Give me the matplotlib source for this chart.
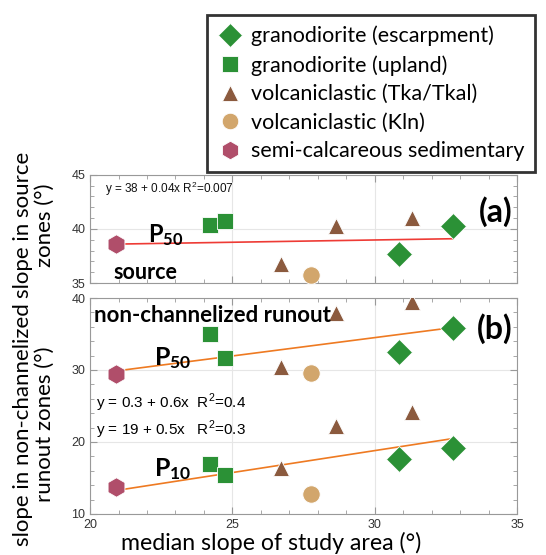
import matplotlib
matplotlib.use("Agg")
import matplotlib.pyplot as plt
from matplotlib.lines import Line2D
from matplotlib.ticker import MultipleLocator
import numpy as np

plt.rcParams['font.family'] = ['Liberation Sans', 'DejaVu Sans']
plt.rcParams['mathtext.fontset'] = 'custom'
plt.rcParams['mathtext.rm'] = 'Liberation Sans'
plt.rcParams['mathtext.bf'] = 'Lato:bold'
CAL = ['Lato', 'DejaVu Sans']   # Calibri-like labels

GREEN = "#2b9136"
BROWN = "#8b5a3e"
TAN = "#d2a66c"
ROSE = "#b04e6a"
RED_LINE = "#ee3b35"
ORANGE_LINE = "#ee7a22"

# lithology groups: (label, marker, colour)
groups = [
    ("granodiorite (escarpment)", "D", GREEN),
    ("granodiorite (upland)", "s", GREEN),
    ("volcaniclastic (Tka/Tkal)", "^", BROWN),
    ("volcaniclastic (Kln)", "o", TAN),
    ("semi-calcareous sedimentary", "h", ROSE),
]

# median slope of study area per group
median_x = {
    "D": [30.85, 32.75],
    "s": [24.2, 24.75],
    "^": [26.7, 28.65, 31.3],
    "o": [27.75],
    "h": [20.9],
}
# (a) P50 slope in source zones
src_p50 = {
    "D": [37.7, 40.3],
    "s": [40.4, 40.7],
    "^": [36.8, 40.3, 41.0],
    "o": [35.7],
    "h": [38.6],
}
# (b) P50 slope in non-channelized runout zones
run_p50 = {
    "D": [32.5, 35.8],
    "s": [35.0, 31.7],
    "^": [30.4, 37.9, 39.5],
    "o": [29.6],
    "h": [29.4],
}
# (b) P10 slope in non-channelized runout zones
run_p10 = {
    "D": [17.7, 19.2],
    "s": [17.0, 15.4],
    "^": [16.4, 22.2, 24.1],
    "o": [12.7],
    "h": [13.7],
}
# regression lines (intercept, slope) as drawn
fit_src_p50 = (37.72, 0.042)
fit_run_p50 = (19.2, 0.51)
fit_run_p10 = (0.5, 0.61)
fit_x = [20.9, 32.75]

marker_size = {"D": 13, "s": 12, "^": 12, "o": 12.5, "h": 14}


def style_axes(ax):
    for sp in ax.spines.values():
        sp.set_color("#999999")
        sp.set_linewidth(0.8)
    ax.set_xlim(20, 35)
    ax.xaxis.set_major_locator(MultipleLocator(5))
    ax.xaxis.set_minor_locator(MultipleLocator(1))
    ax.tick_params(which="both", direction="in", top=True, right=True,
                   colors="#999999", labelcolor="#333333", labelsize=9)
    ax.tick_params(which="major", length=5)
    ax.tick_params(which="minor", length=3)
    ax.grid(True, which="major", color="#e6e6e6", lw=0.8)
    ax.set_axisbelow(True)


def scatter(ax, yd):
    for label, m, c in groups:
        ax.plot(median_x[m], yd[m], ls="none", marker=m, color=c,
                markersize=marker_size[m], markeredgecolor="white",
                markeredgewidth=0.6, zorder=3)


def fit_line(ax, coef, color):
    xx = np.array(fit_x)
    ax.plot(xx, coef[0] + coef[1] * xx, color=color, lw=1.2, zorder=2)


fig = plt.figure(figsize=(5.46, 5.55), dpi=100)
ax_a = fig.add_axes([0.165, 0.490, 0.782, 0.195])
ax_b = fig.add_axes([0.165, 0.074, 0.782, 0.389])

style_axes(ax_a)
ax_a.set_ylim(35, 45)
ax_a.yaxis.set_major_locator(MultipleLocator(5))
ax_a.yaxis.set_minor_locator(MultipleLocator(1))
ax_a.set_xticklabels([])
fit_line(ax_a, fit_src_p50, RED_LINE)
scatter(ax_a, src_p50)

style_axes(ax_b)
ax_b.set_ylim(10, 40)
ax_b.yaxis.set_major_locator(MultipleLocator(10))
ax_b.yaxis.set_minor_locator(MultipleLocator(2))
fit_line(ax_b, fit_run_p50, ORANGE_LINE)
fit_line(ax_b, fit_run_p10, ORANGE_LINE)
scatter(ax_b, run_p50)
scatter(ax_b, run_p10)

# panel (a) annotations
ax_a.text(0.035, 0.83, "y = 38 + 0.04x R$^2$=0.007", transform=ax_a.transAxes,
          fontsize=8.5, color="#111111")
ax_a.text(0.135, 0.44, r"$\mathbf{P_{50}}$", transform=ax_a.transAxes,
          fontsize=17, va="center")
ax_a.text(0.055, 0.10, "source", transform=ax_a.transAxes, fontsize=15.5,
          fontweight="bold", family=CAL, va="center")
ax_a.text(0.99, 0.66, "(a)", transform=ax_a.transAxes, fontsize=23,
          fontweight="bold", family=CAL, ha="right", va="center")

# panel (b) annotations
ax_b.text(0.008, 0.92, "non-channelized runout", transform=ax_b.transAxes,
          fontsize=16, fontweight="bold", family=CAL, va="center")
ax_b.text(0.15, 0.72, r"$\mathbf{P_{50}}$", transform=ax_b.transAxes,
          fontsize=18, va="center")
ax_b.text(0.015, 0.515, "y = 0.3 + 0.6x  R$^2$=0.4", transform=ax_b.transAxes,
          fontsize=11, va="center")
ax_b.text(0.015, 0.39, "y = 19 + 0.5x   R$^2$=0.3", transform=ax_b.transAxes,
          fontsize=11, va="center")
ax_b.text(0.15, 0.21, r"$\mathbf{P_{10}}$", transform=ax_b.transAxes,
          fontsize=18, va="center")
ax_b.text(0.99, 0.86, "(b)", transform=ax_b.transAxes, fontsize=23,
          fontweight="bold", family=CAL, ha="right", va="center")

fig.text(0.496, 0.022, "median slope of study area (°)", fontsize=16.7,
         family=CAL, ha="center", va="center")

fig.text(0.062, 0.595, "slope in source\nzones (°)", rotation=90, fontsize=16,
         family=CAL, ha="center", va="center", linespacing=1.15)
fig.text(0.062, 0.235, "slope in non-channelized\nrunout zones (°)", rotation=90,
         fontsize=16, family=CAL, ha="center", va="center", linespacing=1.15)

handles = [Line2D([], [], ls="none", marker=m, color=c,
                  markersize=marker_size[m] * 0.95, markeredgecolor="white",
                  markeredgewidth=0.6)
           for _, m, c in groups]
leg = fig.legend(handles, [g[0] for g in groups], loc="upper right",
                 bbox_to_anchor=(0.98, 0.973), prop={"family": CAL, "size": 15.5},
                 frameon=True, fancybox=False, edgecolor="black",
                 labelspacing=0.4, handletextpad=0.35, borderpad=0.5,
                 borderaxespad=0, handlelength=1.2)
leg.get_frame().set_linewidth(2)

fig.savefig("out.png", dpi=100)
